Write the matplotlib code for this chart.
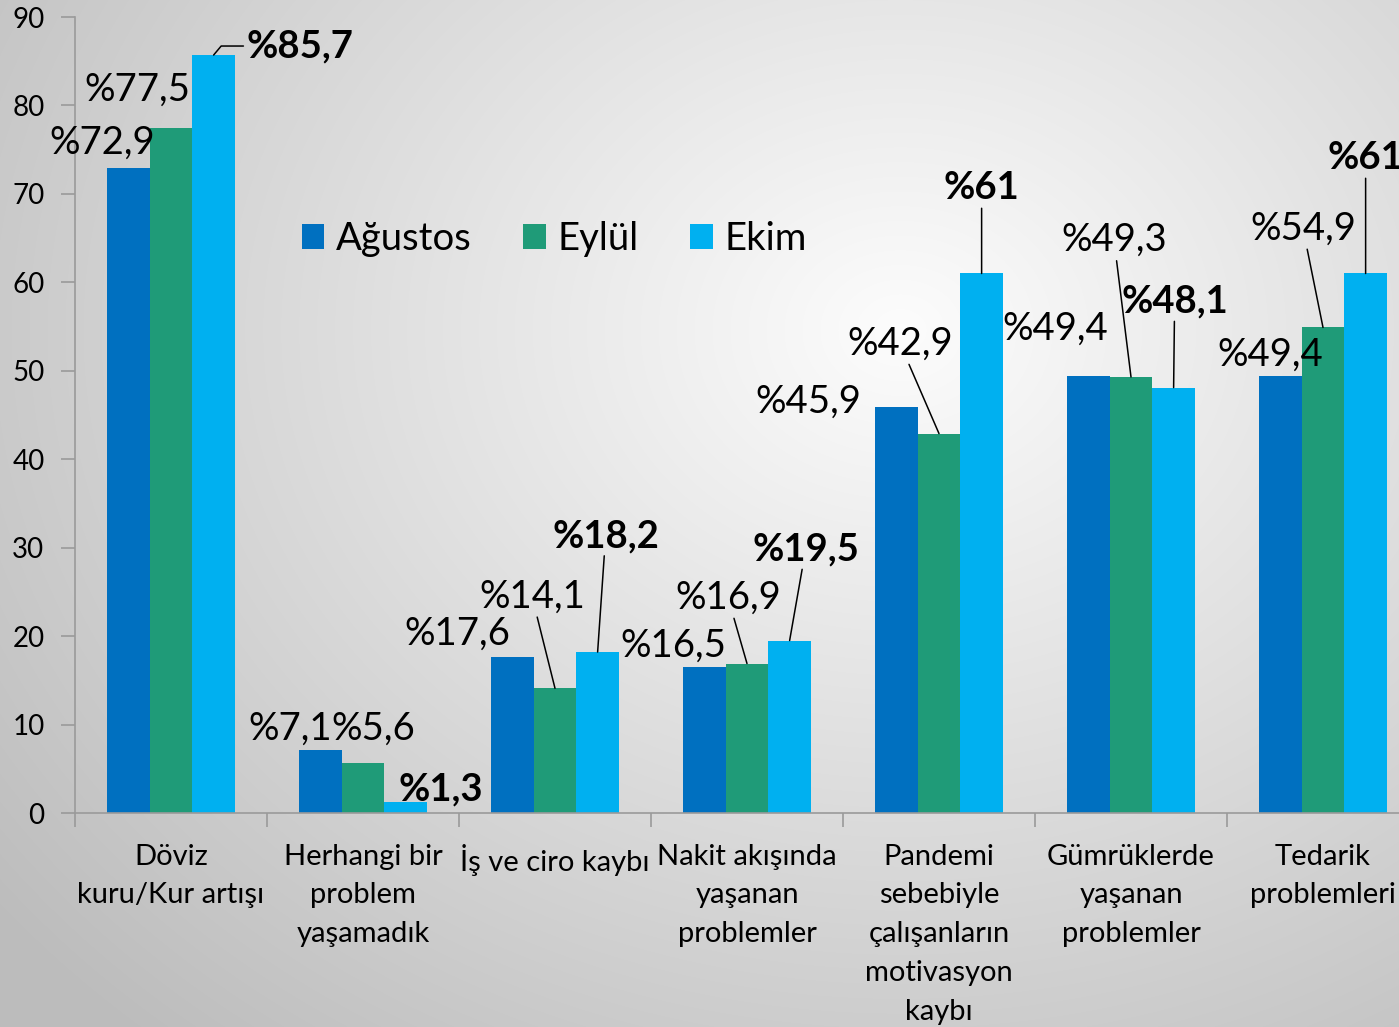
import matplotlib.pyplot as plt
import numpy as np

plt.rcParams['font.family'] = ['Lato', 'DejaVu Sans']

# veriler
kategoriler = ['Döviz\nkuru/Kur artışı', 'Herhangi bir\nproblem\nyaşamadık', 'İş ve ciro kaybı',
               'Nakit akışında\nyaşanan\nproblemler', 'Pandemi\nsebebiyle\nçalışanların\nmotivasyon\nkaybı',
               'Gümrüklerde\nyaşanan\nproblemler', 'Tedarik\nproblemleri']
agustos = [72.9, 7.1, 17.6, 16.5, 45.9, 49.4, 49.4]
eylul = [77.5, 5.6, 14.1, 16.9, 42.9, 49.3, 54.9]
ekim = [85.7, 1.3, 18.2, 19.5, 61, 48.1, 61]
seriler = ['Ağustos', 'Eylül', 'Ekim']
renkler = ['#0070C0', '#1F9B78', '#00B0F0']

# etiket konumlari (bar tepesine gore piksel kaydirma) ve cizgi olup olmadigi
kaydirma = [
    [(-26, 26), (-30, 21), (-55, 24), (-31, 21), (-88, 5), (-33, 47), (-10, 21)],
    [(-34, 38), (10, 35), (-23, 92), (-19, 66), (-39, 90), (-17, 137), (-20, 99)],
    [(86, 9), (35, 12), (8, 116), (16, 91), (0, 85), (1, 86), (0, 115)],
]
cizgi = [
    [0, 0, 0, 0, 0, 0, 0],
    [0, 0, 1, 1, 1, 1, 1],
    [1, 0, 1, 1, 1, 1, 1],
]


def etiket(v):
    s = f'{v:.1f}'.replace('.', ',')
    if s.endswith(',0'):
        s = s[:-2]
    return '%' + s


fig = plt.figure(figsize=(13.99, 10.27), dpi=100)

# arka plan: radyal gri gecis
bg = fig.add_axes([0, 0, 1, 1], zorder=-10)
yy, xx = np.mgrid[0:1027, 0:1399]
r = np.sqrt(((xx - 900) / 1100.0) ** 2 + ((yy - 330) / 900.0) ** 2)
gri = np.clip(0.99 - 0.24 * r, 0.74, 0.99)
bg.imshow(np.dstack([gri, gri, gri]), aspect='auto', extent=[0, 1, 0, 1])
bg.axis('off')

ax = fig.add_axes([75 / 1399, 1 - 813 / 1027, 1344 / 1399, 796 / 1027])
ax.patch.set_alpha(0)

x = np.arange(len(kategoriler))
w = 0.222
for k, (vals, ad, renk) in enumerate(zip([agustos, eylul, ekim], seriler, renkler)):
    pos = x + (k - 1) * w
    ax.bar(pos, vals, w, color=renk, label=ad, zorder=2)
    for i, v in enumerate(vals):
        dx, dy = kaydirma[k][i]
        agirlik = 'bold' if k == 2 else 'normal'
        ok = None
        if cizgi[k][i]:
            ok = dict(arrowstyle='-', color='black', lw=1.1, shrinkA=0, shrinkB=0)
            if k == 2 and i == 0:
                ok.update(relpos=(0, 0.5), connectionstyle='angle,angleA=0,angleB=50,rad=0')
        ax.annotate(etiket(v), xy=(pos[i], v), xytext=(dx, dy), textcoords='offset pixels',
                    ha='center', va='center', fontsize=27.5, fontweight=agirlik,
                    arrowprops=ok, annotation_clip=False, zorder=3)

ax.set_xlim(-0.5, 6.5)
ax.set_ylim(0, 90)
ax.set_yticks(range(0, 91, 10))
ax.set_xticks(x)
ax.set_xticklabels(kategoriler, fontsize=21, linespacing=1.61)
ax.set_xticks(np.arange(-0.5, 7, 1), minor=True)
ax.tick_params(axis='x', which='major', length=0, pad=22)
ax.tick_params(axis='x', which='minor', length=10, color='#9a9a9a', width=1.2)
ax.tick_params(axis='y', labelsize=20, length=10, color='#9a9a9a', width=1.2, pad=12)
for s in ['top', 'right']:
    ax.spines[s].set_visible(False)
for s in ['left', 'bottom']:
    ax.spines[s].set_color('#9a9a9a')
    ax.spines[s].set_linewidth(1.2)

ax.legend(loc='upper left', bbox_to_anchor=(0.143, 0.787), ncol=3, frameon=False, fontsize=27.5,
          handlelength=0.6, handleheight=0.6, handletextpad=0.3, columnspacing=1.34)

fig.savefig('out.png', dpi=100)
